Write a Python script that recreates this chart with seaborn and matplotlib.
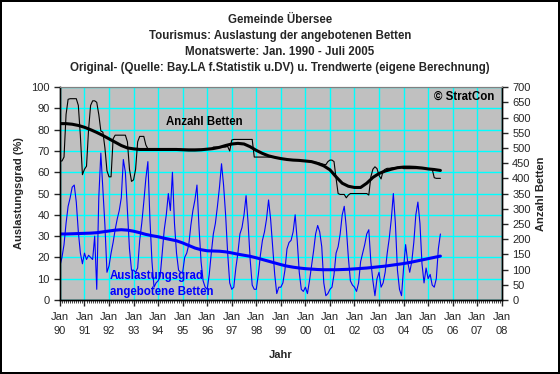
import numpy as np
import matplotlib
matplotlib.use("Agg")
import matplotlib.pyplot as plt
from matplotlib.ticker import MultipleLocator
import seaborn as sns

# Monthly bed occupancy (%), Jan 1990 - Jul 2005
ausl_1990 = [16, 20, 26, 36, 44, 48, 53, 54, 46, 32, 22, 17]
ausl_1991 = [22, 19, 21, 20, 19, 30, 5, 48, 69, 52, 35, 13]
ausl_1992 = [16, 22, 27, 33, 38, 42, 48, 66, 60, 42, 24, 14]
ausl_1993 = [14, 13, 15, 28, 36, 46, 57, 65, 38, 18, 6, 8]
ausl_1994 = [9, 11, 22, 33, 40, 50, 42, 60, 36, 22, 14, 13]
ausl_1995 = [13, 20, 22, 26, 35, 42, 47, 54, 34, 18, 9, 6]
ausl_1996 = [5, 12, 22, 31, 36, 44, 53, 64, 54, 40, 22, 8]
ausl_1997 = [5, 6, 15, 22, 31, 34, 40, 49, 36, 19, 7, 5]
ausl_1998 = [5, 12, 21, 28, 32, 38, 47, 38, 25, 12, 3, 6]
ausl_1999 = [6, 8, 14, 24, 27, 28, 32, 40, 28, 13, 5, 4]
ausl_2000 = [6, 3, 9, 16, 23, 31, 35, 32, 25, 8, 2, 3]
ausl_2001 = [5, 6, 12, 22, 25, 31, 40, 44, 34, 20, 9, 7]
ausl_2002 = [6, 4, 8, 18, 22, 26, 31, 33, 18, 9, 2, 10]
ausl_2003 = [13, 6, 8, 13, 22, 29, 38, 50, 36, 14, 5, 2]
ausl_2004 = [15, 26, 18, 13, 18, 27, 40, 46, 36, 17, 8, 15]
ausl_2005 = [10, 12, 7, 6, 10, 24, 31]

# Monthly number of beds offered
betten_1990 = [457, 457, 470, 610, 660, 662, 662, 662, 662, 640, 540, 412]
betten_1991 = [430, 440, 560, 640, 655, 655, 650, 610, 556, 552, 500, 425]
betten_1992 = [405, 405, 530, 542, 542, 542, 542, 542, 542, 520, 430, 390]
betten_1993 = [395, 430, 520, 538, 538, 538, 510, 497, 497, 497, 497, 497]
betten_1994 = [497, 497, 497, 497, 497, 497, 497, 497, 497, 497, 497, 497]
betten_1995 = [496, 496, 496, 496, 496, 496, 496, 496, 496, 496, 496, 496]
betten_1996 = [497, 497, 497, 503, 503, 503, 503, 503, 503, 503, 505, 490]
betten_1997 = [526, 528, 528, 528, 528, 528, 528, 528, 528, 528, 528, 470]
betten_1998 = [470, 470, 470, 470, 470, 470, 470, 470, 470, 470, 468, 466]
betten_1999 = [465, 464, 463, 462, 461, 460, 460, 460, 459, 459, 458, 458]
betten_2000 = [457, 457, 456, 455, 454, 453, 452, 450, 448, 446, 445, 455]
betten_2001 = [460, 460, 455, 400, 350, 347, 347, 347, 336, 345, 350, 350]
betten_2002 = [350, 350, 350, 350, 350, 350, 350, 345, 405, 430, 438, 432]
betten_2003 = [410, 398, 425, 430, 433, 433, 434, 435, 435, 436, 436, 436]
betten_2004 = [432, 432, 432, 432, 432, 432, 432, 432, 432, 432, 432, 432]
betten_2005 = [430, 430, 430, 402, 400, 400, 400]

# Trend values, one every 3 months from Jan 1990
ausl_trend = [31.0, 31.0, 31.1, 31.2, 31.3, 31.4, 31.6, 32.0, 32.4, 32.8,
              33.0, 32.8, 32.3, 31.6, 30.8, 30.2, 29.7, 29.0, 28.4, 27.8,
              26.8, 25.6, 24.4, 23.6, 23.1, 23.0, 22.9, 22.6, 22.1, 21.5,
              21.0, 20.5, 19.8, 19.0, 18.2, 17.4, 16.6, 15.9, 15.4, 15.0,
              14.7, 14.5, 14.3, 14.2, 14.2, 14.2, 14.3, 14.4, 14.6, 14.8,
              15.0, 15.3, 15.6, 15.9, 16.3, 16.7, 17.1, 17.6, 18.2, 18.8,
              19.4, 20.0, 20.6]
betten_trend = [580, 580, 578, 574, 568, 560, 551, 541, 530, 519,
                508, 500, 497, 495, 495, 495, 495, 495, 495, 495,
                494, 493, 493, 494, 496, 498, 502, 508, 513, 515,
                513, 504, 492, 482, 474, 469, 465, 462, 460, 459,
                457, 455, 449, 441, 428, 405, 384, 374, 370, 370,
                384, 403, 416, 424, 430, 435, 437, 437, 436, 434,
                431, 429, 426]

year_labels = ["90", "91", "92", "93", "94", "95", "96", "97", "98", "99",
               "00", "01", "02", "03", "04", "05", "06", "07", "08"]

ausl = (ausl_1990 + ausl_1991 + ausl_1992 + ausl_1993 + ausl_1994 + ausl_1995
        + ausl_1996 + ausl_1997 + ausl_1998 + ausl_1999 + ausl_2000 + ausl_2001
        + ausl_2002 + ausl_2003 + ausl_2004 + ausl_2005)
betten = (betten_1990 + betten_1991 + betten_1992 + betten_1993 + betten_1994
          + betten_1995 + betten_1996 + betten_1997 + betten_1998 + betten_1999
          + betten_2000 + betten_2001 + betten_2002 + betten_2003 + betten_2004
          + betten_2005)

t_month = 1990 + np.arange(len(ausl)) / 12
t_trend = 1990 + np.arange(len(ausl_trend)) * 3 / 12

sns.set_style("white")
plt.rcParams["font.family"] = ["Liberation Sans", "DejaVu Sans"]

fig = plt.figure(figsize=(5.6, 3.74), dpi=100, facecolor="white",
                 edgecolor="black", linewidth=1.5)
ax = fig.add_axes([0.107, 0.198, 0.789, 0.569])
ax.set_facecolor("#C0C0C0")
ax2 = ax.twinx()

blue = "#0000FF"
sns.lineplot(x=t_month, y=ausl, ax=ax, color=blue, lw=0.8)
sns.lineplot(x=t_trend, y=ausl_trend, ax=ax, color=blue, lw=2.2)
sns.lineplot(x=t_month, y=betten, ax=ax2, color="black", lw=0.8)
sns.lineplot(x=t_trend, y=betten_trend, ax=ax2, color="black", lw=2.2)

ax.set_xlim(1990, 2008)
ax.set_ylim(0, 100)
ax2.set_ylim(0, 700)
ax.set_xticks(range(1990, 2009))
ax.set_xticklabels(["Jan\n" + y for y in year_labels], fontsize=8, linespacing=1.5)
ax.xaxis.set_minor_locator(MultipleLocator(1 / 12))
ax.set_yticks(range(0, 101, 10))
ax2.set_yticks(range(0, 701, 50))
ax.tick_params(axis="y", labelsize=8, direction="out", length=4, width=1, left=True)
ax2.tick_params(axis="y", labelsize=8, direction="out", length=4, width=1, right=True)
ax.tick_params(axis="x", which="major", direction="out", length=4, width=1,
               bottom=True, pad=5)
ax.tick_params(axis="x", which="minor", direction="out", length=2, width=0.6,
               bottom=True)

ax.grid(True, which="major", color="#00FFFF", lw=1)
ax.set_axisbelow(True)

for a in (ax, ax2):
    for s in ("left", "right", "bottom"):
        a.spines[s].set_color("black")
        a.spines[s].set_linewidth(1)
    a.spines["top"].set_color("#808080")

ax.set_ylabel("Auslastungsgrad (%)", fontsize=8, fontweight="bold", labelpad=5)
ax2.set_ylabel("Anzahl Betten", fontsize=8, fontweight="bold", labelpad=4)
ax.set_xlabel("Jahr", fontsize=8, fontweight="bold", labelpad=10)

titles = ["Gemeinde Übersee",
          "Tourismus: Auslastung der angebotenen Betten",
          "Monatswerte: Jan. 1990 - Juli 2005",
          "Original- (Quelle: Bay.LA f.Statistik u.DV) u. Trendwerte (eigene Berechnung)"]
for k, line in enumerate(titles):
    fig.text(0.5, 1 - (20 + 16 * k) / 374, line, ha="center", va="center",
             fontsize=8.3, fontweight="bold")

ax.text(0.326, 0.836, "Anzahl Betten", transform=ax.transAxes, ha="center",
        va="center", fontsize=8.3, fontweight="bold", color="black", zorder=5)
ax.text(0.113, 0.075, "Auslastungsgrad\nangebotene Betten", transform=ax.transAxes,
        ha="left", va="center", fontsize=8.3, fontweight="bold", color=blue,
        linespacing=1.4, zorder=5)
ax2.text(0.984, 0.955, "© StratCon", transform=ax.transAxes, ha="right",
         va="center", fontsize=8.3, fontweight="bold", color="black")

fig.savefig("out.png", dpi=100, facecolor=fig.get_facecolor(),
            edgecolor=fig.get_edgecolor())
